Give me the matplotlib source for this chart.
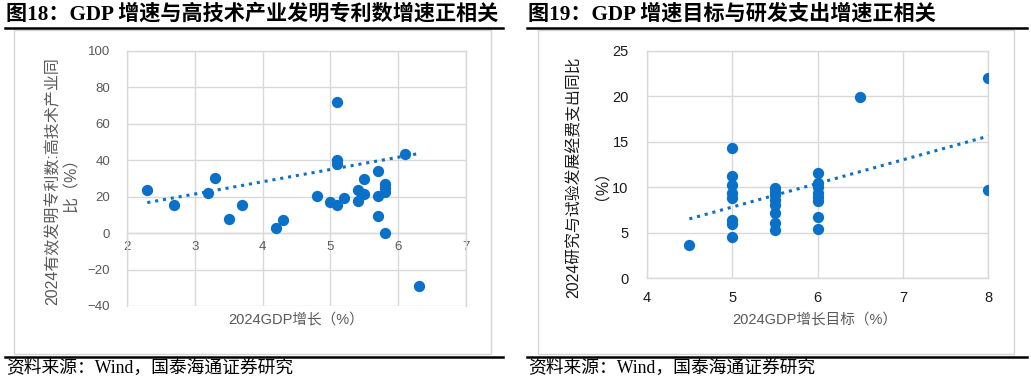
import numpy as np
import matplotlib
matplotlib.use("Agg")
import matplotlib.pyplot as plt
from matplotlib.patches import Rectangle

# 数据
gdp18 = [2.3, 2.7, 3.2, 3.3, 3.5, 3.7, 4.2, 4.3, 4.8, 5.0, 5.1, 5.1, 5.1, 5.1,
         5.2, 5.4, 5.4, 5.5, 5.5, 5.7, 5.7, 5.7, 5.8, 5.8, 5.8, 5.8, 6.1, 6.3]
patent = [23.4, 15.2, 22.0, 30.0, 7.7, 15.2, 2.8, 7.0, 20.1, 17.0, 71.8, 39.9, 37.7, 15.2,
          19.4, 23.4, 17.6, 29.8, 21.2, 34.0, 20.1, 9.3, 26.8, 24.6, 22.5, -0.2, 43.1, -29.2]
# 趋势线两端（图上读取）
trend18_x = [2.3, 6.3]
trend18_y = [16.7, 43.6]

target19 = [4.5, 5, 5, 5, 5, 5, 5, 5, 5,
            5.5, 5.5, 5.5, 5.5, 5.5, 5.5, 5.5, 5.5,
            6, 6, 6, 6, 6, 6, 6, 6, 6.5, 8, 8]
rd = [3.6, 14.3, 11.2, 10.2, 9.3, 8.8, 6.4, 5.9, 4.5,
      9.9, 9.5, 9.1, 8.6, 8.0, 7.2, 6.0, 5.3,
      11.5, 10.5, 10.0, 9.3, 8.9, 8.5, 6.7, 5.4, 19.9, 22.0, 9.7]
trend19_x = [4.5, 8]
trend19_y = [6.5, 15.6]

xticks18 = [2, 3, 4, 5, 6, 7]
yticks18 = [-40, -20, 0, 20, 40, 60, 80, 100]
xticks19 = [4, 5, 6, 7, 8]
yticks19 = [0, 5, 10, 15, 20, 25]

W, H = 1031, 380
BLUE = '#0b70c8'
GRID = '#d9d9d9'
SANS = ['Liberation Sans', 'Noto Sans CJK SC']
SERIF = ['Liberation Serif', 'Noto Sans CJK SC']

fig = plt.figure(figsize=(W / 100, H / 100), dpi=100)
fig.patch.set_facecolor('white')

# 背景层：标题、黑线、灰框、来源
bg = fig.add_axes([0, 0, 1, 1])
bg.set_xlim(0, W)
bg.set_ylim(H, 0)
bg.axis('off')

for x0, x1 in [(5, 503), (527, 1027)]:
    bg.plot([x0, x1], [28, 28], color='black', lw=1.8)
    bg.plot([x0, x1], [356.5, 356.5], color='black', lw=1.8)
for x0, x1 in [(14, 491), (538, 1014)]:
    bg.add_patch(Rectangle((x0, 29.5), x1 - x0, 324, facecolor='white',
                           edgecolor='#d6d6d6', lw=1.0))

bg.text(6, 14, '图18：GDP 增速与高技术产业发明专利数增速正相关', family=SERIF,
        fontsize=15.2, fontweight='bold', va='center', ha='left')
bg.text(528, 14, '图19：GDP 增速目标与研发支出增速正相关', family=SERIF,
        fontsize=15.2, fontweight='bold', va='center', ha='left')
bg.text(6, 368, '资料来源：Wind，国泰海通证券研究', family=SERIF,
        fontsize=12.8, va='center', ha='left')
bg.text(528, 368, '资料来源：Wind，国泰海通证券研究', family=SERIF,
        fontsize=12.8, va='center', ha='left')


def px_axes(l, t, r, b):
    return fig.add_axes([l / W, 1 - b / H, (r - l) / W, (b - t) / H])


def style(ax, col):
    for s in ax.spines.values():
        s.set_color(GRID)
        s.set_linewidth(1.0)
    ax.grid(True, color=GRID, lw=1.0)
    ax.set_axisbelow(True)
    ax.tick_params(length=0, labelsize=9.5, colors=col)
    for lab in ax.get_xticklabels() + ax.get_yticklabels():
        lab.set_family(SANS)


# 图18
ax1 = px_axes(127, 50.7, 466, 306)
ax1.scatter(gdp18, patent, s=66, color=BLUE, zorder=3, linewidths=0)
ax1.plot(trend18_x, trend18_y, color=BLUE, lw=2.2, linestyle=(0, (1, 1.6)), zorder=2)
ax1.set_xlim(2, 7)
ax1.set_ylim(-40, 100)
ax1.set_xticks(xticks18)
ax1.set_yticks(yticks18)
ax1.spines['bottom'].set_position(('data', 0))
style(ax1, '#595959')
ax1.tick_params(axis='y', pad=12)
ax1.tick_params(axis='x', pad=6)

fig.text(62 / W, 1 - 181 / H, '2024有效发明专利数:高技术产业同\n比（%）', rotation=90,
         ha='center', va='center', multialignment='center', family=SANS,
         fontsize=11.5, color='#595959', linespacing=1.35)
fig.text(296 / W, 1 - 320 / H, '2024GDP增长（%）', ha='center', va='center',
         family=SANS, fontsize=10.5, color='#595959')

# 图19
ax2 = px_axes(646.7, 50.7, 988.3, 278)
ax2.scatter(target19, rd, s=66, color=BLUE, zorder=3, linewidths=0)
ax2.plot(trend19_x, trend19_y, color=BLUE, lw=2.2, linestyle=(0, (1, 1.6)), zorder=2)
ax2.set_xlim(4, 8)
ax2.set_ylim(0, 25)
ax2.set_xticks(xticks19)
ax2.set_yticks(yticks19)
style(ax2, '#1a1a1a')
ax2.tick_params(labelsize=10.5)
ax2.tick_params(axis='y', pad=13)
ax2.tick_params(axis='x', pad=9)

fig.text(584 / W, 1 - 177 / H, '2024研究与试验发展经费支出同比\n（%）', rotation=90,
         ha='center', va='center', multialignment='center', family=SANS,
         fontsize=11.4, color='#1a1a1a', linespacing=1.4)
fig.text(815 / W, 1 - 320 / H, '2024GDP增长目标（%）', ha='center', va='center',
         family=SANS, fontsize=10.5, color='#595959')

fig.savefig('out.png', dpi=100, facecolor='white')
